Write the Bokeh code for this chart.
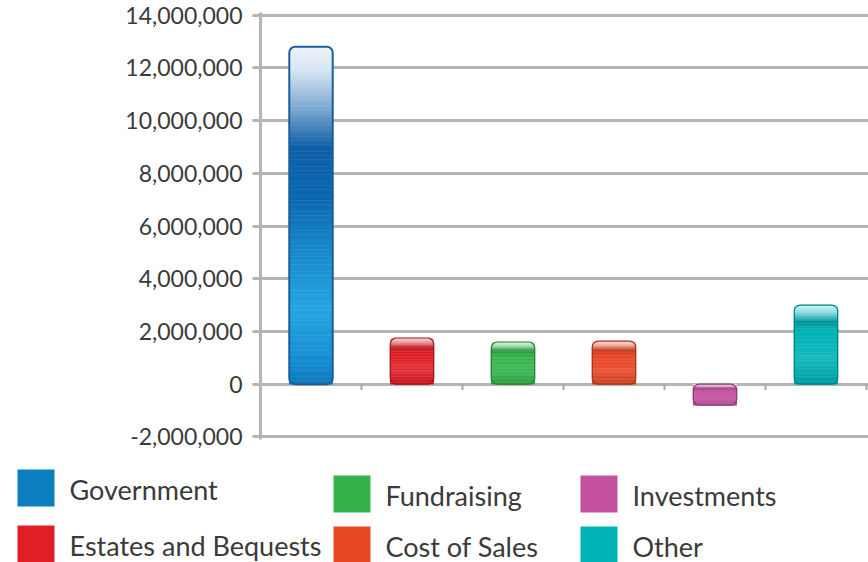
import numpy as np
from bokeh.plotting import figure
from bokeh.models import Range1d, FixedTicker, NumeralTickFormatter
from bokeh.layouts import column, row
from bokeh.core.properties import value
from bokeh.embed import file_html
from bokeh.resources import INLINE

# ---------------- data ----------------
categories = ["Government", "Estates and Bequests", "Fundraising",
              "Cost of Sales", "Investments", "Other"]
values = [12_800_000, 1_750_000, 1_600_000, 1_630_000, -800_000, 3_000_000]
colors = ["#0B7FC0", "#E01E25", "#33B34A", "#E84625", "#C3519F", "#00B3B7"]
y_ticks = [-2_000_000, 0, 2_000_000, 4_000_000, 6_000_000, 8_000_000,
           10_000_000, 12_000_000, 14_000_000]

FONT = value("Lato")
TEXT_COLOR = "#3a3a3a"
GRID = "#b5b5b5"


def hex2rgb(h):
    h = h.lstrip("#")
    return np.array([int(h[i:i + 2], 16) for i in (0, 2, 4)], dtype=float)


def rgb2hex(c):
    c = np.clip(np.round(c), 0, 255).astype(int)
    return "#%02x%02x%02x" % tuple(c)


def mix(c, other, a):
    return rgb2hex(hex2rgb(c) * (1 - a) + hex2rgb(other) * a)


def interp(stops, t):
    for (t0, c0), (t1, c1) in zip(stops[:-1], stops[1:]):
        if t0 <= t <= t1:
            f = (t - t0) / (t1 - t0) if t1 > t0 else 0
            return rgb2hex(hex2rgb(c0) * (1 - f) + hex2rgb(c1) * f)
    return stops[-1][1]


gov_stops = [(0.0, "#EEF4FA"), (0.07, "#D6E6F3"), (0.18, "#7FAAD2"),
             (0.30, "#0D5EA6"), (0.45, "#0B69B0"), (0.62, "#1A8BCF"),
             (0.78, "#25A5E2"), (0.92, "#1690D2"), (1.0, "#0F79BD")]


def small_stops(c):
    return [(0.0, mix(c, "#ffffff", 0.85)), (0.10, mix(c, "#ffffff", 0.55)),
            (0.22, mix(c, "#000000", 0.18)), (0.32, c),
            (0.70, mix(c, "#ffffff", 0.08)), (1.0, mix(c, "#000000", 0.12))]


BAR_W = 0.43

# ---------------- main chart ----------------
p = figure(width=868, height=452, output_backend="svg", toolbar_location=None,
           x_range=Range1d(0, 6.02), y_range=Range1d(-2_100_000, 14_100_000),
           x_axis_location=None, min_border_left=260, min_border_right=0,
           min_border_top=12, min_border_bottom=13)
p.outline_line_color = None
p.background_fill_color = "white"
p.xgrid.visible = False
p.ygrid.grid_line_color = GRID
p.ygrid.grid_line_width = 3
p.ygrid.ticker = FixedTicker(ticks=y_ticks)

ax = p.yaxis[0]
ax.ticker = FixedTicker(ticks=y_ticks)
ax.formatter = NumeralTickFormatter(format="0,0")
ax.axis_line_color = GRID
ax.axis_line_width = 3
ax.major_tick_line_color = GRID
ax.major_tick_line_width = 3
ax.major_tick_out = 8
ax.major_tick_in = 0
ax.minor_tick_line_color = None
ax.major_label_text_font = "Lato"
ax.major_label_text_font_size = "23px"
ax.major_label_text_color = TEXT_COLOR
ax.major_label_standoff = 10

centers = [i + 0.5 for i in range(len(values))]
tops = [max(v, 0) for v in values]
bottoms = [min(v, 0) for v in values]

# gradient slices for each bar
L, R, T, B, C = [], [], [], [], []
for i, (v, c) in enumerate(zip(values, colors)):
    top, bot = max(v, 0), min(v, 0)
    stops = gov_stops if i == 0 else small_stops(c)
    n = 90 if i == 0 else 30
    for k in range(n):
        L.append(i + 0.5 - BAR_W / 2)
        R.append(i + 0.5 + BAR_W / 2)
        T.append(top - (top - bot) * k / n)
        B.append(top - (top - bot) * (k + 1) / n)
        C.append(interp(stops, (k + 0.5) / n))
p.quad(left=L, right=R, top=T, bottom=B, fill_color=C, line_color=C,
       line_width=0.5)

# outlines
outline_cols = ["#1B5E9E"] + [mix(c, "#000000", 0.3) for c in colors[1:]]
outline_w = [2] + [1.2] * (len(values) - 1)
p.vbar(x=centers, top=tops, bottom=bottoms, width=BAR_W, fill_color=None,
       line_color=outline_cols, line_width=outline_w, border_radius=6)

# category ticks on the zero line
bounds = list(range(1, len(categories) + 1))
p.segment(x0=bounds, x1=bounds, y0=[0] * len(bounds),
          y1=[-220_000] * len(bounds), line_color="#a5a5a5", line_width=2)

# ---------------- legend (separate strip under the chart) ----------------
leg = figure(width=868, height=110, output_backend="svg", toolbar_location=None,
             x_range=Range1d(0, 868), y_range=Range1d(110, 0),
             x_axis_location=None, y_axis_location=None,
             min_border=0, min_border_left=0, min_border_right=0,
             min_border_top=0, min_border_bottom=0)
leg.outline_line_color = None
leg.grid.visible = False

col_x = [17, 333, 580]
row_y = [[17, 73], [23, 74], [23, 74]]
SQ = 37
lq_l, lq_r, lq_t, lq_b, tx, ty = [], [], [], [], [], []
for i, name in enumerate(categories):
    ci, ri = i // 2, i % 2
    x0 = col_x[ci]
    y0 = row_y[ci][ri]
    lq_l.append(x0)
    lq_r.append(x0 + SQ)
    lq_t.append(y0)
    lq_b.append(y0 + SQ)
    tx.append(x0 + 52)
    ty.append(y0 + 20)
leg.quad(left=lq_l, right=lq_r, top=lq_t, bottom=lq_b, fill_color=colors,
         line_color=None)
leg.text(x=tx, y=ty, text=categories, text_font=FONT, text_font_size="27px",
         text_color=TEXT_COLOR, text_baseline="middle", text_align="left")

layout = column(row(p), row(leg), spacing=0)
open("out.html", "w").write(file_html(layout, INLINE))
